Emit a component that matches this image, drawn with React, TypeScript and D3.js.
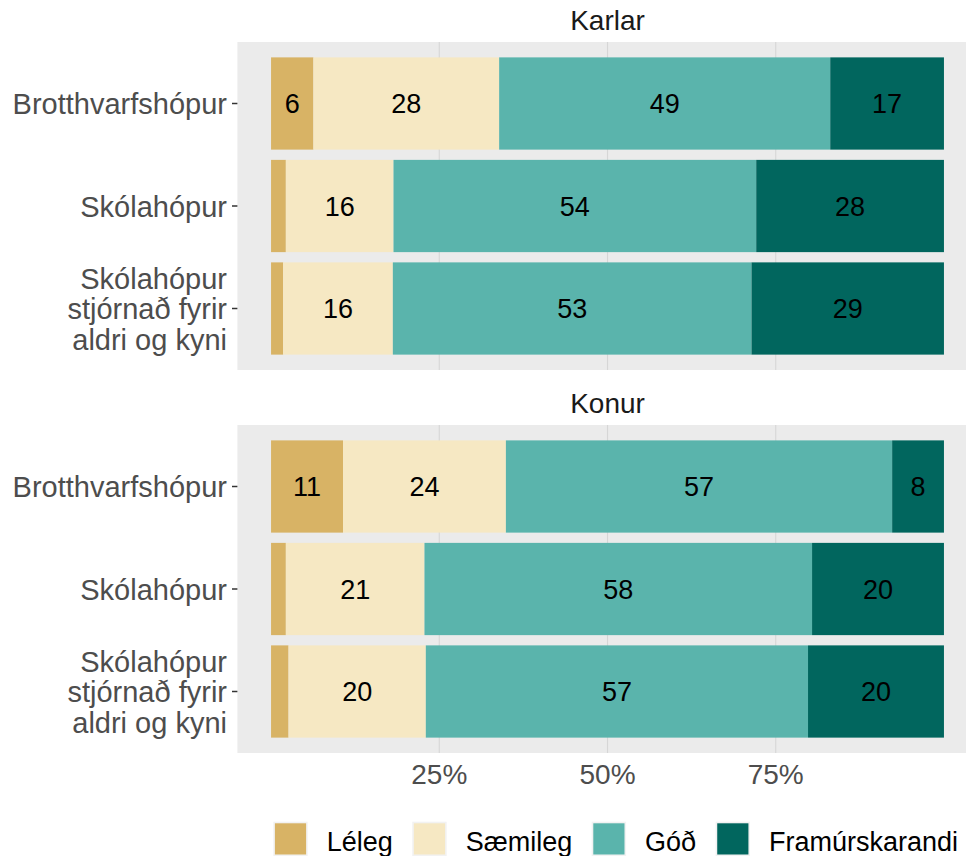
import * as d3 from "d3";

const FONT = "'Liberation Sans', Arial, Helvetica, sans-serif";

const facets = ["Karlar", "Konur"];
const categories = ["Brotthvarfshópur", "Skólahópur", "Skólahópur\nstjórnað fyrir\naldri og kyni"];
const levels = ["Léleg", "Sæmileg", "Góð", "Framúrskarandi"];
const colors = ["#D8B365", "#F6E8C3", "#5AB4AC", "#01665E"];

// share in % for each row: Karlar (3 rows) then Konur (3 rows)
const leleg = [6.3, 2.2, 1.8, 10.7, 2.2, 2.6];
const saemileg = [27.6, 16.0, 16.3, 24.2, 20.6, 20.4];
const god = [49.2, 53.9, 53.3, 57.4, 57.6, 56.8];
const framurskarandi = [16.9, 27.9, 28.6, 7.7, 19.6, 20.2];

const xTicks = [25, 50, 75];

const W = 966, H = 856;
const panelTops = [42, 425];
const panelH = 328;

function measure(text: string, size: number) {
  const c = document.createElement("canvas").getContext("2d");
  if (!c) return text.length * size * 0.5;
  c.font = `${size}px ${FONT}`;
  return c.measureText(text).width;
}

export default function App() {
  const series = [leleg, saemileg, god, framurskarandi];
  const x = d3.scaleLinear().domain([-5, 105]).range([237.4, 977.6]);
  const panelLeft = x(-5), panelRight = x(105);

  // legend layout
  let lx = 273.3;
  const legendItems = levels.map((lab, i) => {
    const item = { lab, color: colors[i], x: lx };
    lx += 34.4 + 19 + measure(lab, 27) + 19.5;
    return item;
  });

  return (
    <svg width={W} height={H} style={{ position: "absolute", left: 0, top: 0, background: "#fff" }}
      fontFamily={FONT}>
      {facets.map((facet, f) => {
        const top = panelTops[f];
        const y = d3.scaleBand().domain(categories).range([top, top + panelH])
          .paddingInner(0.1).paddingOuter(0.15);
        return (
          <g key={facet}>
            <text x={(panelLeft + panelRight) / 2} y={top - 12} textAnchor="middle"
              fontSize={28} fill="#1A1A1A">{facet}</text>
            <rect x={panelLeft} y={top} width={panelRight - panelLeft} height={panelH} fill="#EBEBEB" />
            {xTicks.map(t => (
              <line key={t} x1={x(t)} x2={x(t)} y1={top} y2={top + panelH} stroke="#D6D6D6" strokeWidth={1.1} />
            ))}
            {categories.map((cat, c) => {
              const idx = f * 3 + c;
              const yc = y(cat)! + y.bandwidth() / 2;
              let acc = 0;
              const segs = series.map((s, k) => {
                const v = s[idx];
                const x0 = acc;
                acc += v;
                return { k, v, x0, x1: acc };
              });
              const lines = cat.split("\n");
              return (
                <g key={cat}>
                  {segs.map(s => (
                    <rect key={s.k} x={x(s.x0)} y={y(cat)} width={x(s.x1) - x(s.x0)}
                      height={y.bandwidth()} fill={colors[s.k]} />
                  ))}
                  {segs.filter(s => s.v >= 4).map(s => (
                    <text key={"t" + s.k} x={x((s.x0 + s.x1) / 2)} y={yc + 9.7} textAnchor="middle"
                      fontSize={27} fill="#000">{Math.round(s.v)}</text>
                  ))}
                  <line x1={232} x2={237.4} y1={yc} y2={yc} stroke="#333" strokeWidth={1.5} />
                  {lines.map((ln, i) => (
                    <text key={i} x={227} y={yc + 10.5 + (i - (lines.length - 1) / 2) * 30.5}
                      textAnchor="end" fontSize={29} fill="#4D4D4D">{ln}</text>
                  ))}
                </g>
              );
            })}
          </g>
        );
      })}
      {xTicks.map(t => (
        <text key={t} x={x(t)} y={784} textAnchor="middle" fontSize={28} fill="#4D4D4D">{t}%</text>
      ))}
      {legendItems.map(it => (
        <g key={it.lab}>
          <rect x={it.x} y={821.7} width={34.4} height={34.4} fill="#F2F2F2" />
          <rect x={it.x + 1.6} y={823.3} width={31.2} height={31.2} fill={it.color} />
          <text x={it.x + 53.4} y={851} fontSize={27} fill="#000">{it.lab}</text>
        </g>
      ))}
    </svg>
  );
}
